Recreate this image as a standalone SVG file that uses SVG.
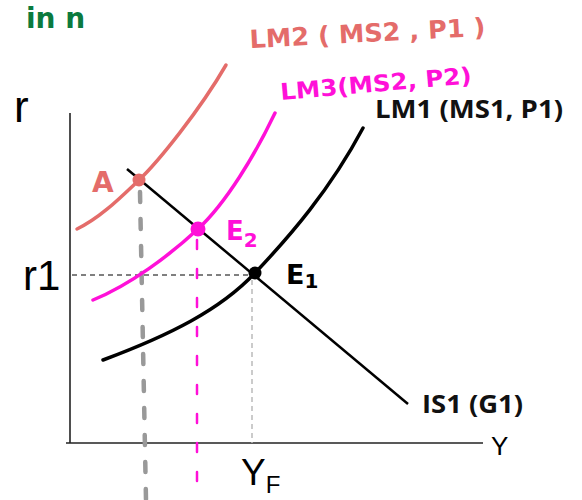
<svg xmlns="http://www.w3.org/2000/svg" width="582" height="500" viewBox="0 0 582 500">
<style>
.ax{stroke:#222;stroke-width:1.6;fill:none}
.lbl{font-family:"Liberation Sans",Arial,sans-serif;fill:#000}
.bold{font-family:"Open Sans","Liberation Sans",sans-serif;font-weight:700;fill:#111}
.hand{font-family:"DejaVu Sans","Liberation Sans",sans-serif;font-weight:700}
.curve{fill:none;stroke-linecap:round;stroke-width:3.5}
</style>
<rect width="582" height="500" fill="#fff"/>
<text class="hand" x="26" y="28" font-size="28" fill="#0b7a3e">in n</text>
<g id="axes">
<line class="ax" x1="70" y1="113" x2="70" y2="443"/>
<line class="ax" x1="66" y1="443" x2="483" y2="443"/>
<text class="lbl" x="14" y="122" font-size="44">r</text>
<text class="lbl" x="23" y="290" font-size="42">r1</text>
<text class="lbl" x="491" y="455" font-size="26">Y</text>
<text class="lbl" x="241" y="485" font-size="37">Y<tspan font-size="24" dy="8">F</tspan></text>
</g>
<g id="connectors">
<line x1="72" y1="275" x2="255" y2="275" stroke="#000" stroke-width="1" stroke-dasharray="5,4"/>
<line x1="252" y1="280" x2="252" y2="443" stroke="#bbb" stroke-width="1.5" stroke-dasharray="5,4"/>
<line x1="140" y1="192" x2="146" y2="500" stroke="#999" stroke-width="4.5" stroke-linecap="round" stroke-dasharray="10,17"/>
<line x1="197" y1="240" x2="197" y2="490" stroke="#ff10d8" stroke-width="2.5" stroke-linecap="round" stroke-dasharray="9,20"/>
</g>
<g id="IS1">
<line x1="127" y1="169" x2="408" y2="404" stroke="#000" stroke-width="2.5"/>
<text class="bold" x="422" y="413" font-size="25" textLength="101" lengthAdjust="spacingAndGlyphs">IS1 (G1)</text>
</g>
<g id="LM1">
<path class="curve" stroke="#000" d="M103,360 C170,335 220,310 255,273 S330,190 363,128"/>
<text class="bold" x="375" y="118" font-size="25" textLength="188" lengthAdjust="spacingAndGlyphs">LM1 (MS1, P1)</text>
</g>
<g id="LM3">
<path class="curve" stroke="#ff10d8" d="M93,300 C130,285 170,255 198,229 S255,155 275,113"/>
<text class="hand" x="281" y="100" font-size="23" fill="#ff10d8" transform="rotate(-5 281 100)" textLength="192" lengthAdjust="spacingAndGlyphs">LM3(MS2, P2)</text>
</g>
<g id="LM2">
<path class="curve" stroke="#e46c6a" d="M77,229 C100,218 120,198 139,180 S200,110 226,65"/>
<text class="hand" x="250" y="48" font-size="25" fill="#e46c6a" transform="rotate(-3 250 48)" textLength="236" lengthAdjust="spacingAndGlyphs">LM2 ( MS2 , P1 )</text>
</g>
<g id="A">
<circle cx="139" cy="180" r="6.5" fill="#e46c6a"/>
<text class="hand" x="92" y="192" font-size="28" fill="#e46c6a">A</text>
</g>
<g id="E2">
<circle cx="198" cy="229" r="7.5" fill="#ff10d8"/>
<text class="hand" x="226" y="240" font-size="26" fill="#ff10d8">E<tspan font-size="20" dy="7">2</tspan></text>
</g>
<g id="E1">
<circle cx="255" cy="273" r="6.5" fill="#000"/>
<text class="hand" x="286" y="284" font-size="27" fill="#000">E<tspan font-size="20" dy="4">1</tspan></text>
</g>
</svg>
